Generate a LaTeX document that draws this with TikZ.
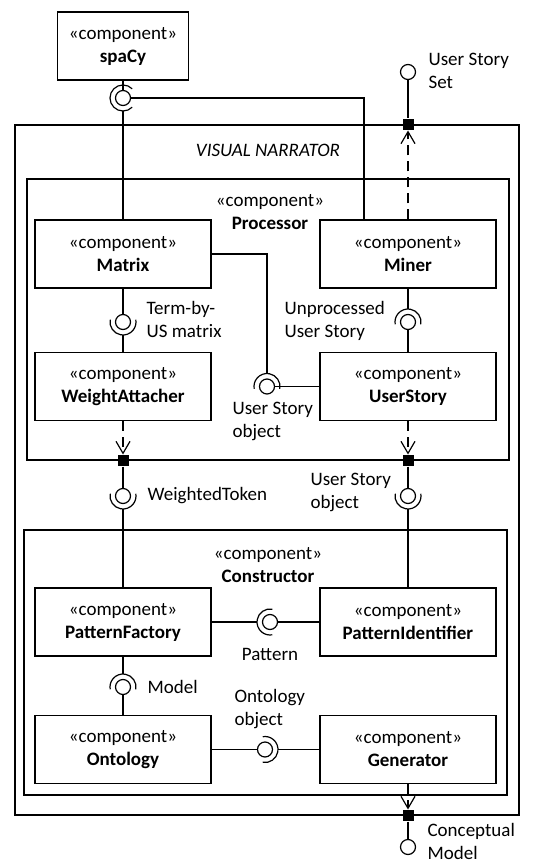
\documentclass[tikz,border=0pt]{standalone}
\usepackage{fontspec}
\setmainfont{Carlito}
\usetikzlibrary{arrows.meta,positioning}

\newcommand{\iface}[4][200]{%
  \node[ball] (#2) at (#3) {};
  \draw ([shift={(#4-#1/2:13)}]#2.center) arc[start angle=#4-#1/2, delta angle=#1, radius=13];}

\begin{document}
\begin{tikzpicture}[x=1pt,y=1pt,line width=1.2pt,font=\fontsize{19}{23}\selectfont]
  \tikzset{
    comp/.style={draw,minimum width=176,minimum height=68,align=center,inner sep=0},
    box/.style={draw,inner sep=0},
    ball/.style={draw,circle,minimum size=15,inner sep=0},
    port/.style={fill=black,minimum size=11,inner sep=0},
    dep/.style={dash pattern=on 10pt off 6pt,-{Straight Barb[length=12pt,width=14pt]}},
    lbl/.style={anchor=west,align=left,inner sep=0}
  }
  \useasboundingbox (0,0) rectangle (549,-866);

  \node[comp,minimum width=131] (spacy) at (123,-46) {«component»\\\textbf{spaCy}};

  \node[box,minimum width=504,minimum height=690] (vn) at (267,-470) {};
  \node at (268,-150) {\itshape VISUAL NARRATOR};

  \node[box,minimum width=482,minimum height=281] (proc) at (268,-319.5) {};
  \node[align=center] at (270,-212) {«component»\\\textbf{Processor}};
  \node[comp] (matrix) at (123,-254) {«component»\\\textbf{Matrix}};
  \node[comp] (miner) at (408,-254) {«component»\\\textbf{Miner}};
  \node[comp] (wa) at (123,-386.5) {«component»\\\textbf{WeightAttacher}};
  \node[comp] (us) at (408,-386.5) {«component»\\\textbf{UserStory}};

  \node[box,minimum width=483,minimum height=265] (cons) at (265.5,-662.5) {};
  \node[align=center] at (268,-565) {«component»\\\textbf{Constructor}};
  \node[comp] (pf) at (123,-622) {«component»\\\textbf{PatternFactory}};
  \node[comp] (pi) at (408,-622) {«component»\\\textbf{PatternIdentifier}};
  \node[comp] (ont) at (123,-749.5) {«component»\\\textbf{Ontology}};
  \node[comp] (gen) at (408,-749.5) {«component»\\\textbf{Generator}};

  \iface[270]{sp}{123,-98}{180}
  \draw (spacy.south) -- (sp.north);
  \draw (sp.east) -| ([xshift=-44]miner.north);
  \draw ([yshift=-13]sp.center) -- (matrix.north);

  \node[ball] (uss) at (408,-72) {};
  \node[port] (p0) at (miner.north |- vn.north) {};
  \draw (uss.south) -- (p0.north);
  \draw[dep] (miner.north) -- (p0.south);
  \node[lbl] at (428,-71) {User Story\\Set};

  \iface{mw}{123,-322}{270}
  \draw (matrix.south) -- (mw.north);
  \draw ([yshift=-13]mw.center) -- (wa.north);
  \node[lbl] at (146,-319) {Term-by-\\US matrix};

  \iface{mu}{408,-322}{90}
  \draw (miner.south) -- ([yshift=13]mu.center);
  \draw (mu.south) -- (us.north);
  \node[lbl] at (284,-321) {Unprocessed\\User Story};

  \iface{uo}{267,-386.5}{90}
  \draw (matrix.east) -| ([yshift=13]uo.center);
  \draw (uo.east) -- (us.west);
  \node[lbl] at (232,-421) {User Story\\object};

  \node[port] (p1) at (wa.south |- proc.south) {};
  \node[port] (p2) at (us.south |- proc.south) {};
  \draw[dep] (wa.south) -- (p1.north);
  \draw[dep] (us.south) -- (p2.north);

  \iface{wt}{123,-496}{270}
  \draw (p1.south) -- (wt.north);
  \draw ([yshift=-13]wt.center) -- (pf.north);
  \node[lbl] at (147,-496) {WeightedToken};

  \iface{uo2}{408,-496}{270}
  \draw (p2.south) -- (uo2.north);
  \draw ([yshift=-13]uo2.center) -- (pi.north);
  \node[lbl] at (310,-492) {User Story\\object};

  \iface{pat}{270,-622}{180}
  \draw (pf.east) -- ([xshift=-13]pat.center);
  \draw (pat.east) -- (pi.west);
  \node at (270,-654) {Pattern};

  \iface{mo}{123,-687}{90}
  \draw (pf.south) -- ([yshift=13]mo.center);
  \draw (mo.south) -- (ont.north);
  \node[lbl] at (147,-687) {Model};

  \iface{og}{265,-749.5}{0}
  \draw (ont.east) -- (og.west);
  \draw ([xshift=13]og.center) -- (gen.west);
  \node[lbl] at (234,-709) {Ontology\\object};

  \node[port] (p3) at (gen.south |- vn.south) {};
  \draw[dep] (gen.south) -- (p3.north);
  \node[ball] (cm) at (408,-847) {};
  \draw (p3.south) -- (cm.north);
  \node[lbl] at (427,-841) {Conceptual\\Model};
\end{tikzpicture}
\end{document}
